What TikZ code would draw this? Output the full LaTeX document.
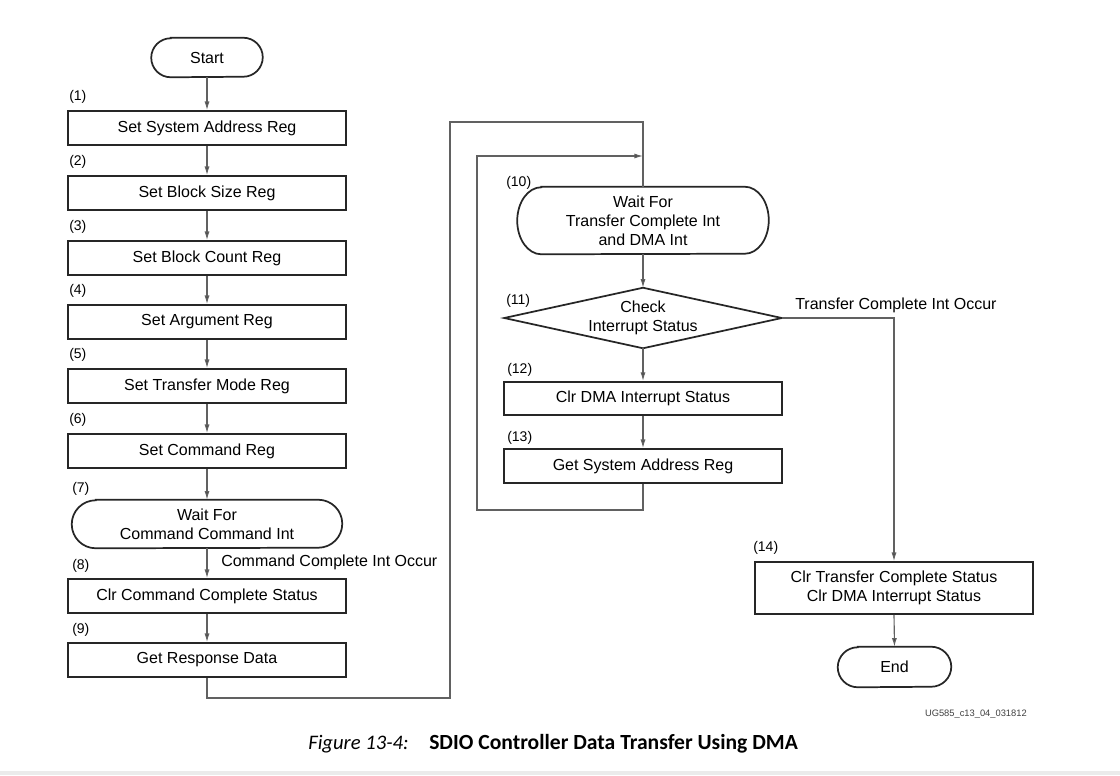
\documentclass[tikz,border=0pt]{standalone}
\usepackage{fontspec}
\setmainfont{Liberation Sans}
\newfontfamily\capfont{Carlito}
\usetikzlibrary{arrows.meta}
\tikzset{
  boxline/.style={line width=1.3pt, draw=black!85},
  stepbox/.style={boxline, rectangle, minimum width=208.5pt, minimum height=25.5pt, inner sep=0pt, font=\fontsize{12}{14.3}\selectfont, align=center},
  pillnode/.style={rectangle, inner sep=0pt, font=\fontsize{12}{14.3}\selectfont, align=center},
  decnode/.style={rectangle, inner sep=0pt, font=\fontsize{12}{14.3}\selectfont, align=center},
  numlbl/.style={anchor=west, inner sep=0pt, font=\fontsize{10.5}{12}\selectfont},
  edgelbl/.style={anchor=west, inner sep=0pt, font=\fontsize{12}{14}\selectfont},
  conn/.style={line width=0.85pt, draw=black!62},
  arr/.style={conn, -{Latex[length=6.5pt,width=3.8pt,fill=black!75]}},
}
\newcommand\pillpath[3]{%
  \draw[boxline] ([shift={(#2,0)}]#1.north west) -- ([shift={(-#2,0)}]#1.north east)
    arc[start angle=90,end angle=-90,x radius=#2,y radius=#3]
    -- ([shift={(#2,0)}]#1.south west)
    arc[start angle=270,end angle=90,x radius=#2,y radius=#3] -- cycle;}
\begin{document}
\begin{tikzpicture}[x=0.75pt,y=0.75pt]
\path[use as bounding box] (0,0) rectangle (1120,-775);
\fill[white] (0,0) rectangle (1120,-775);
\fill[black!8] (0,-771) rectangle (1120,-775);

% left column
\node[pillnode, minimum width=83.25pt, minimum height=29.25pt] (st) at (207,-57.5) {Start};
\pillpath{st}{19.5}{19.5}
\node[stepbox] (n1) at (207,-128) {Set System Address Reg};
\node[stepbox] (n2) at (207,-193) {Set Block Size Reg};
\node[stepbox] (n3) at (207,-258) {Set Block Count Reg};
\node[stepbox] (n4) at (207,-322) {Set Argument Reg};
\node[stepbox] (n5) at (207,-386) {Set Transfer Mode Reg};
\node[stepbox] (n6) at (207,-451) {Set Command Reg};
\node[pillnode, minimum width=202.5pt, minimum height=36pt] (n7) at (207,-524) {Wait For\\Command Command Int};
\pillpath{n7}{24}{24}
\node[stepbox] (n8) at (207,-596) {Clr Command Complete Status};
\node[stepbox] (n9) at (207,-660) {Get Response Data};

\node[numlbl] (l1) at (69,-97) {(1)};
\node[numlbl] (l2) at (69,-162) {(2)};
\node[numlbl] (l3) at (69,-227) {(3)};
\node[numlbl] (l4) at (69,-291) {(4)};
\node[numlbl] (l5) at (69,-355) {(5)};
\node[numlbl] (l6) at (69,-420) {(6)};
\node[numlbl] (l7) at (72,-489) {(7)};
\node[numlbl] (l8) at (72,-566) {(8)};
\node[numlbl] (l9) at (72,-630) {(9)};

% right column
\node[pillnode, minimum width=188.25pt, minimum height=50.25pt] (n10) at (643,-220.5) {Wait For\\Transfer Complete Int\\and DMA Int};
\pillpath{n10}{24}{33.5}
\node[decnode, minimum width=207.75pt, minimum height=45pt] (n11) at (643,-318) {Check\\Interrupt Status};
\draw[boxline] (n11.west) -- (n11.north) -- (n11.east) -- (n11.south) -- cycle;
\node[stepbox, minimum height=25pt] (n12) at (643,-398.5) {Clr DMA Interrupt Status};
\node[stepbox] (n13) at (643,-466) {Get System Address Reg};
\node[stepbox, minimum height=39pt] (n14) at (894,-588) {Clr Transfer Complete Status\\Clr DMA Interrupt Status};
\node[pillnode, minimum width=84.75pt, minimum height=30pt] (en) at (894.5,-667) {End};
\pillpath{en}{20}{20}

\node[numlbl] (l10) at (506,-183) {(10)};
\node[numlbl] (l11) at (506,-301) {(11)};
\node[numlbl] (l12) at (507,-370) {(12)};
\node[numlbl] (l13) at (507,-438) {(13)};
\node[numlbl] (l14) at (753,-548) {(14)};

% connectors
\draw[arr] (st.south) -- (n1.north);
\draw[arr] (n1.south) -- (n2.north);
\draw[arr] (n2.south) -- (n3.north);
\draw[arr] (n3.south) -- (n4.north);
\draw[arr] (n4.south) -- (n5.north);
\draw[arr] (n5.south) -- (n6.north);
\draw[arr] (n6.south) -- (n7.north);
\draw[arr] (n7.south) -- (n8.north);
\node[edgelbl] (e1) at (221,-562) {Command Complete Int Occur};
\draw[arr] (n8.south) -- (n9.north);

\coordinate (o1) at (450,-698);
\coordinate (o2) at (450,-122);
\draw[conn] (n9.south) |- (o1) -- (o2) -| (n10.north);

\draw[arr] (n10.south) -- (n11.north);
\draw[arr] (n11.south) -- (n12.north);
\draw[arr] (n12.south) -- (n13.north);

\coordinate (i1) at (477,-510);
\coordinate (j1) at (643,-156);
\draw[arr] (n13.south) |- (i1) |- (j1);

\draw[arr] (n11.east) -| (n14.north);
\node[edgelbl] (e2) at (795,-305) {Transfer Complete Int Occur};
\draw[arr] (n14.south) -- (en.north);

\node[anchor=east, inner sep=0pt, text=black!75, font=\fontsize{7}{8}\selectfont] (id) at (1027,-714) {UG585\_c13\_04\_031812};

% caption
\node[anchor=base west, inner sep=0pt, font=\capfont\fontsize{15.5}{18}\selectfont] (cap1) at (308,-749) {\itshape Figure 13-4:};
\node[anchor=base west, inner sep=0pt, font=\capfont\fontsize{16.2}{18}\selectfont\bfseries] (cap2) at (429,-749) {SDIO Controller Data Transfer Using DMA};
\end{tikzpicture}
\end{document}
